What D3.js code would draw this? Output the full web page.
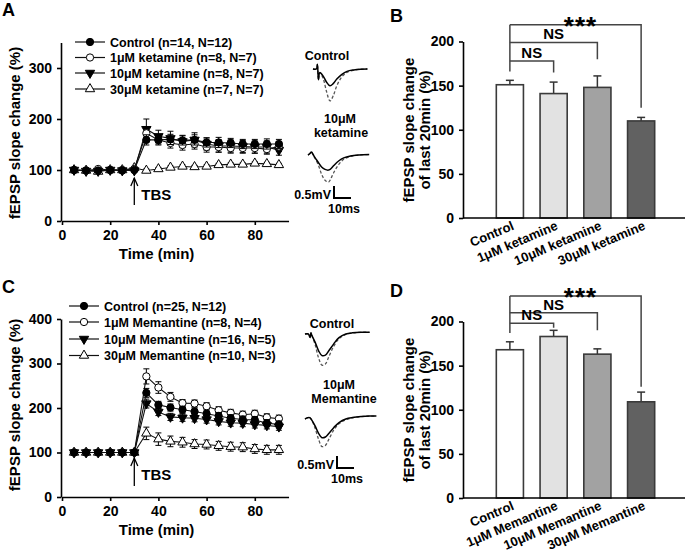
<!DOCTYPE html>
<html><head><meta charset="utf-8">
<script src="https://cdn.jsdelivr.net/npm/d3@7/dist/d3.min.js"></script>
<style>
body{margin:0;background:#fff}
text{font-family:Arial,"Liberation Sans",sans-serif;font-weight:bold;fill:#000}
</style></head><body>
<svg id="c" width="687" height="559"></svg>
<script>
// ---------------- DATA ----------------
const times = [5,10,15,20,25,30,35,40,45,50,55,60,65,70,75,80,85,90];
const xTicks = [0,20,40,60,80];

// Panel A (ketamine time course)
const ketNames = ["Control (n=14, N=12)","1\u03bcM ketamine (n=8, N=7)","10\u03bcM ketamine (n=8, N=7)","30\u03bcM ketamine (n=7, N=7)"];
const ketCtrl    = [100,99,99,100,99,100,159,159,160,158,159,154,154,153,151,151,151,151];
const ketCtrlErr = [2,2,2,2,2,2,10,8,10,9,10,9,10,9,9,9,10,9];
const ket1       = [100,99,102,100,100,102,172,159,153,149,151,145,145,143,143,143,141,146];
const ket1Err    = [2,2,2,2,2,2,12,10,10,10,10,10,10,10,10,10,10,10];
const ket10      = [100,98,98,100,99,99,180,166,162,156,159,151,147,147,146,145,145,139];
const ket10Err   = [2,2,2,2,2,2,20,12,14,12,14,12,12,12,12,12,12,10];
const ket30      = [100,99,97,100,100,104,99,102,105,107,106,107,110,111,111,113,112,110];
const ket30Err   = [2,2,2,2,2,2,3,3,3,3,3,3,3,3,3,3,3,3];
const ketYTicks  = [0,100,200,300];

// Panel C (memantine time course)
const memNames = ["Control (n=25, N=12)","1\u03bcM Memantine (n=8, N=4)","10\u03bcM Memantine (n=16, N=5)","30\u03bcM Memantine (n=10, N=3)"];
const memCtrl    = [100,100,100,100,100,100,234,207,201,196,192,187,182,177,174,173,166,163];
const memCtrlErr = [3,3,3,3,3,3,10,8,8,8,8,8,8,8,8,8,8,8];
const mem1       = [100,100,100,100,100,100,271,246,225,211,210,204,195,189,185,187,179,176];
const mem1Err    = [3,3,3,3,3,3,17,13,10,8,8,8,8,8,8,8,8,8];
const mem10      = [100,100,100,100,100,100,210,191,180,178,177,174,170,167,166,163,161,158];
const mem10Err   = [3,3,3,3,3,3,10,8,8,8,8,8,8,8,8,8,8,8];
const mem30      = [100,100,100,100,100,100,143,130,125,123,119,118,115,113,112,108,106,106];
const mem30Err   = [3,3,3,3,3,3,14,14,12,11,10,10,10,10,10,10,10,10];
const memYTicks  = [0,100,200,300,400];

// Panels B / D (bars)
const ketBarLabels = ["Control","1\u03bcM ketamine","10\u03bcM ketamine","30\u03bcM ketamine"];
const ketBar    = [151,141,148,110];
const ketBarErr = [5,13,13,4];
const memBarLabels = ["Control","1\u03bcM Memantine","10\u03bcM Memantine","30\u03bcM Memantine"];
const memBar    = [168,183,163,109];
const memBarErr = [9,7,6,11];
const barYTicks = [0,50,100,150,200];
const sigLabels = ["NS","NS","***"];

// example fEPSP traces (ms, mV)
const trT1 = [0,2,2.6,3.2,4,6,8,10,12,14,17,20,24,28,32];
const trA1s = [0,0,0.2,-0.45,-0.15,-0.3,-0.55,-0.7,-0.6,-0.42,-0.22,-0.1,-0.04,-0.01,0];
const trA1d = [0,0,0.2,-0.45,-0.15,-0.4,-0.95,-1.33,-1.1,-0.7,-0.32,-0.14,-0.05,-0.01,0];
const trT2 = [0,1,2,3,4,6,8,10,12,13,15,18,21,25,30,36];
const trA2s = [0,0.05,0.12,0.02,-0.1,-0.3,-0.5,-0.6,-0.63,-0.6,-0.45,-0.25,-0.12,-0.04,0,0.02];
const trA2d = [0,0.05,0.12,0.02,-0.12,-0.4,-0.8,-1.05,-1.13,-1.05,-0.75,-0.4,-0.18,-0.06,0,0.02];
const trT3 = [0,2,3,3.5,4,6,8,10,12,14,17,20,24,28,33,38];
const trC1s = [0,0,-0.15,0.05,-0.05,-0.35,-0.7,-0.9,-0.88,-0.7,-0.4,-0.15,0,0.05,0.07,0.07];
const trC1d = [0,0,-0.15,0.05,-0.05,-0.45,-1.0,-1.3,-1.25,-0.95,-0.5,-0.2,-0.02,0.04,0.07,0.07];
const trT4 = [0,1.5,3,4,6,8,10,12,14,17,20,24,28,33,38,42];
const trC2s = [0,0.05,0.05,-0.05,-0.3,-0.6,-0.78,-0.75,-0.6,-0.35,-0.15,0,0.06,0.1,0.12,0.12];
const trC2d = [0,0.05,0.05,-0.05,-0.4,-0.85,-1.15,-1.1,-0.85,-0.45,-0.2,-0.03,0.05,0.1,0.12,0.12];

// ---------------- DRAW ----------------
const svg = d3.select("#c");
svg.append("rect").attr("width",687).attr("height",559).attr("fill","#fff");

const symCircle = d3.symbol().type(d3.symbolCircle).size(42);
const symTri = d3.symbol().type(d3.symbolTriangle).size(38);
const markers = [
  {path: symCircle(), fill:"#000", rot:0},
  {path: symCircle(), fill:"#fff", rot:0},
  {path: symTri(), fill:"#000", rot:180},
  {path: symTri(), fill:"#fff", rot:0}
];

function styleAxis(g, fs){
  g.selectAll("path.domain").attr("stroke","#000").attr("stroke-width",1.6);
  g.selectAll(".tick line").attr("stroke","#000").attr("stroke-width",1.6);
  g.selectAll(".tick text").attr("font-size",fs).attr("font-weight","bold")
    .attr("font-family","Arial, 'Liberation Sans', sans-serif").attr("fill","#000");
}

function timePanel(cfg){
  const x = d3.scaleLinear().domain([0,94]).range([cfg.x0, cfg.x0 + 94*2.41]);
  const y = d3.scaleLinear().domain([0,cfg.yMax]).range([cfg.yBottom, cfg.yTop]);
  const gy = svg.append("g").attr("transform",`translate(${cfg.x0-1},0)`)
    .call(d3.axisLeft(y).tickValues(cfg.yTicks).tickSize(4).tickSizeOuter(0).tickPadding(5));
  styleAxis(gy,14);
  const gx = svg.append("g").attr("transform",`translate(0,${cfg.yBottom})`)
    .call(d3.axisBottom(x).tickValues(xTicks).tickSize(4).tickSizeOuter(0).tickPadding(5));
  styleAxis(gx,14);
  svg.append("text").attr("x",x(38)+3).attr("y",cfg.yBottom+38).attr("text-anchor","middle")
    .attr("font-size",15).text("Time (min)");
  svg.append("text").attr("transform",`translate(20,${cfg.yLabelY}) rotate(-90)`)
    .attr("text-anchor","middle").attr("font-size",15).text("fEPSP slope change (%)");

  const order = [3,2,1,0];
  order.forEach(i=>{
    const vals = cfg.series[i], errs = cfg.errs[i];
    const pts = times.map((t,k)=>({t, v:vals[k], e:errs[k]}));
    const eb = svg.append("g").attr("stroke","#000").attr("stroke-width",1);
    pts.forEach(p=>{
      eb.append("line").attr("x1",x(p.t)).attr("x2",x(p.t)).attr("y1",y(p.v-p.e)).attr("y2",y(p.v+p.e));
      eb.append("line").attr("x1",x(p.t)-3).attr("x2",x(p.t)+3).attr("y1",y(p.v+p.e)).attr("y2",y(p.v+p.e));
      eb.append("line").attr("x1",x(p.t)-3).attr("x2",x(p.t)+3).attr("y1",y(p.v-p.e)).attr("y2",y(p.v-p.e));
    });
    svg.append("path").datum(pts).attr("fill","none").attr("stroke","#111").attr("stroke-width",1.1)
      .attr("d", d3.line().x(p=>x(p.t)).y(p=>y(p.v)));
    const m = markers[i];
    svg.append("g").selectAll("path").data(pts).join("path")
      .attr("d",m.path).attr("fill",m.fill).attr("stroke","#000").attr("stroke-width",1)
      .attr("transform",p=>`translate(${x(p.t)},${y(p.v)}) rotate(${m.rot})`);
  });

  cfg.names.forEach((n,i)=>{
    const ly = cfg.legY[i];
    svg.append("line").attr("x1",cfg.legX).attr("x2",cfg.legX+30).attr("y1",ly).attr("y2",ly)
      .attr("stroke","#111").attr("stroke-width",1.2);
    const m = markers[i];
    svg.append("path").attr("d",m.path).attr("fill",m.fill).attr("stroke","#000").attr("stroke-width",1)
      .attr("transform",`translate(${cfg.legX+15},${ly}) rotate(${m.rot})`);
    svg.append("text").attr("x",cfg.legX+35).attr("y",ly+4.5).attr("font-size",12.5).text(n);
  });

  const ax = x(30);
  svg.append("line").attr("x1",ax).attr("x2",ax).attr("y1",cfg.arrowY1).attr("y2",cfg.arrowY2)
    .attr("stroke","#000").attr("stroke-width",1.3);
  svg.append("path").attr("d",`M${ax-3.5},${cfg.arrowY1+8} L${ax},${cfg.arrowY1} L${ax+3.5},${cfg.arrowY1+8}`)
    .attr("fill","none").attr("stroke","#000").attr("stroke-width",1.3);
  svg.append("text").attr("x",ax+7).attr("y",cfg.arrowY1+22).attr("font-size",15).text("TBS");
}

timePanel({x0:62, yBottom:221, yTop:42.5, yMax:350, yTicks:ketYTicks, yLabelY:133,
  series:[ketCtrl,ket1,ket10,ket30], errs:[ketCtrlErr,ket1Err,ket10Err,ket30Err],
  names:ketNames, legX:75, legY:[42,57.5,73,89], arrowY1:178, arrowY2:205});
timePanel({x0:62, yBottom:497, yTop:319, yMax:400, yTicks:memYTicks, yLabelY:405,
  series:[memCtrl,mem1,mem10,mem30], errs:[memCtrlErr,mem1Err,mem10Err,mem30Err],
  names:memNames, legX:69, legY:[306,322,339,355.5], arrowY1:458, arrowY2:486});

function barPanel(cfg){
  const x = d3.scaleBand().domain(cfg.labels).range([488,663]).paddingInner(0.38).paddingOuter(0.19);
  const y = d3.scaleLinear().domain([0,200]).range([cfg.yBottom, cfg.yBottom-176.5]);
  const fills = ["#ffffff","#e2e2e2","#a2a2a2","#616161"];
  cfg.values.forEach((v,i)=>{
    const cx = x(cfg.labels[i]) + x.bandwidth()/2;
    const top = y(v+cfg.errs[i]);
    svg.append("line").attr("x1",cx).attr("x2",cx).attr("y1",y(v)).attr("y2",top).attr("stroke","#333").attr("stroke-width",1.5);
    svg.append("line").attr("x1",cx-4).attr("x2",cx+4).attr("y1",top).attr("y2",top).attr("stroke","#333").attr("stroke-width",1.5);
    svg.append("rect").attr("x",x(cfg.labels[i])).attr("width",x.bandwidth())
      .attr("y",y(v)).attr("height",y(0)-y(v)).attr("fill",fills[i]).attr("stroke","#3a3a3a").attr("stroke-width",1.6);
    svg.append("text").attr("transform",`translate(${cx+5},${cfg.yBottom+11}) rotate(-23)`)
      .attr("text-anchor","end").attr("font-size",13).text(cfg.labels[i]);
  });
  const gy = svg.append("g").attr("transform",`translate(463,0)`)
    .call(d3.axisLeft(y).tickValues(barYTicks).tickSize(4).tickSizeOuter(0).tickPadding(5));
  styleAxis(gy,14);
  svg.append("line").attr("x1",463).attr("x2",685).attr("y1",cfg.yBottom).attr("y2",cfg.yBottom)
    .attr("stroke","#000").attr("stroke-width",1.6);
  const yc = cfg.yBottom - 88;
  svg.append("text").attr("transform",`translate(414,${yc}) rotate(-90)`).attr("text-anchor","middle")
    .attr("font-size",15).text("fEPSP slope change");
  svg.append("text").attr("transform",`translate(430,${yc}) rotate(-90)`).attr("text-anchor","middle")
    .attr("font-size",15).text("of last 20min (%)");
  const cx0 = x(cfg.labels[0]) + x.bandwidth()/2;
  const g = svg.append("g").attr("fill","none").attr("stroke","#444").attr("stroke-width",1.5);
  g.append("line").attr("x1",cx0).attr("x2",cx0).attr("y1",y(cfg.brH[2])).attr("y2",y(cfg.ctrlEnd));
  [0,1,2].forEach(k=>{
    const cx = x(cfg.labels[k+1]) + x.bandwidth()/2;
    g.append("path").attr("d",`M${cx0},${y(cfg.brH[k])} H${cx} V${y(cfg.brEnd[k])}`);
    const tx = (cx0+cx)/2 + (k==2?5:0);
    svg.append("text").attr("x",tx).attr("y",y(cfg.brH[k]) - (k==2?-10:3))
      .attr("text-anchor","middle").attr("font-size",k==2?26:15).attr("letter-spacing",k==2?1:0)
      .text(sigLabels[k]);
  });
}
barPanel({labels:ketBarLabels, values:ketBar, errs:ketBarErr, yBottom:218,
  brH:[178,199,219], brEnd:[165,180,125], ctrlEnd:166});
barPanel({labels:memBarLabels, values:memBar, errs:memBarErr, yBottom:498,
  brH:[198,210,229], brEnd:[193,190,126], ctrlEnd:187});

function trace(t, vs, vd, x0, y0){
  const x = d3.scaleLinear().domain([0,10]).range([x0, x0+17]);
  const y = d3.scaleLinear().domain([0,-0.5]).range([y0, y0+12]);
  const line = d3.line().x((d,i)=>x(t[i])).y(d=>y(d)).curve(d3.curveCatmullRom);
  svg.append("path").datum(vd).attr("d",line).attr("fill","none").attr("stroke","#555")
    .attr("stroke-width",1.3).attr("stroke-dasharray","3,2");
  svg.append("path").datum(vs).attr("d",line).attr("fill","none").attr("stroke","#000").attr("stroke-width",1.5);
}
trace(trT1, trA1s, trA1d, 313, 69);
trace(trT2, trA2s, trA2d, 308, 155);
trace(trT3, trC1s, trC1d, 305, 334);
trace(trT4, trC2s, trC2d, 305, 419);

function scaleBar(bx, by){
  svg.append("path").attr("d",`M${bx},${by-12} V${by} H${bx+17}`).attr("fill","none")
    .attr("stroke","#000").attr("stroke-width",2);
  svg.append("text").attr("x",bx-3).attr("y",by+1).attr("text-anchor","end").attr("font-size",12.5).text("0.5mV");
  svg.append("text").attr("x",bx+10).attr("y",by+15).attr("text-anchor","middle").attr("font-size",12.5).text("10ms");
}
scaleBar(334, 198);
scaleBar(337, 468);

const tl = (x,y,s)=>svg.append("text").attr("x",x).attr("y",y).attr("text-anchor","middle").attr("font-size",12.5).text(s);
tl(327,60,"Control"); tl(340,123,"10\u03bcM"); tl(341,137,"ketamine");
tl(332,328,"Control"); tl(339,389,"10\u03bcM"); tl(344,403,"Memantine");

[["A",2,16],["B",390,22],["C",2,293],["D",390,297]].forEach(([s,x,y])=>
  svg.append("text").attr("x",x).attr("y",y).attr("font-size",18).text(s));
</script></body></html>
